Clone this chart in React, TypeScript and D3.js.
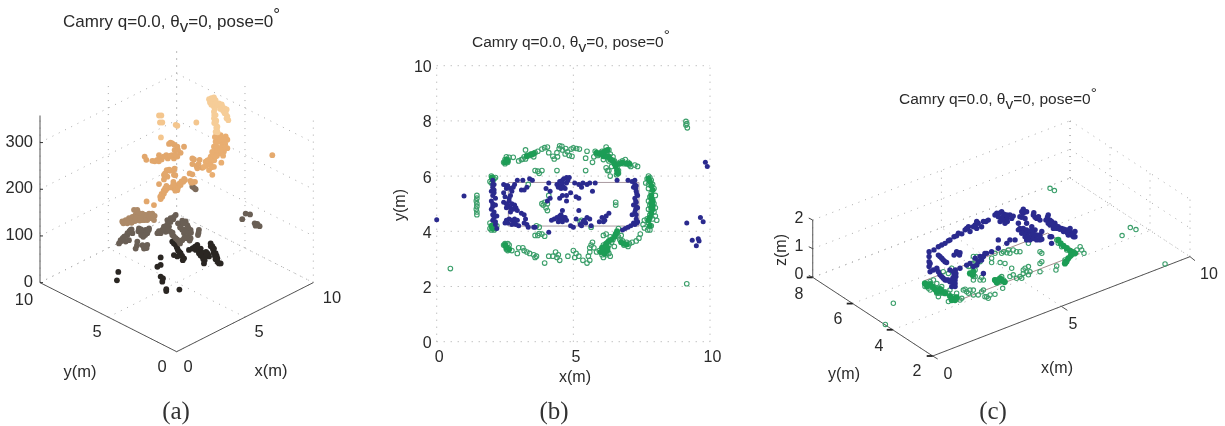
import React from "react";
import * as d3 from "d3";

// ---------- Panel (a): u = x−y (m), v = screen height in z-units, grouped by z level ----------
const aTopStrand = [[2.37,541],[2.54,543],[2.73,545],[2.44,534],[2.63,536],[2.54,529],[2.73,525],[2.85,539],[3.10,532],[3.34,525],[3.51,521],[3.66,519],[3.51,511],[3.71,504],[3.78,496],[2.73,514],[2.85,507],[2.73,500],[2.85,489],[2.98,482],[2.85,471],[2.5,536],[2.6,541],[2.65,530],[2.8,530],[2.9,533],[3.0,528],[3.2,520],[3.3,530],[3.4,516],[3.6,510],[3.65,500],[2.8,520],[2.75,507],[2.9,495],[2.8,493],[2.95,475],[2.9,480],[3.0,470],[2.75,490]];
const aMidStrand = [[3.22,464],[3.59,461],[3.71,454],[2.98,461],[2.85,450],[2.73,439],[3.10,450],[3.34,446],[3.71,436],[3.46,429],[3.10,436],[2.85,429],[2.73,421],[3.22,425],[2.49,418],[2.37,411],[2.12,407],[2.49,404],[2.73,396],[2.37,389],[2.0,396],[2.61,379],[3.27,405],[2.8,460],[3.0,450],[3.2,455],[3.45,455],[3.55,445],[3.3,438],[3.5,438],[2.9,440],[3.0,430],[3.2,432],[3.4,420],[2.95,420],[2.6,428],[2.6,412],[2.75,410],[2.3,402],[2.15,398],[2.55,395],[2.45,412],[2.25,410],[2.85,418]];
const aIsolatedTop = [[-1.29,506],[-1.12,506],[-1.22,491],[-1.05,491],[-.07,486],[.05,484],[1.44,491],[-1.15,459]];
const aLoneOrange = [[7.0,421]];
const aMidBand = [[-.56,445],[-.32,446],[-.15,443],[.05,439],[.54,439],[.29,426],[-2.34,418],[-2.22,411],[-1.78,409],[-1.41,411],[-1.29,421],[-1.17,414],[-.76,421],[-.56,418],[-.32,421],[-.2,414],[.05,418],[1.15,414],[1.27,412],[1.68,411],[1.15,402],[1.88,394],[1.51,393],[.95,382],[1.15,380],[-.73,389],[-.56,388],[-.24,389],[-.93,379],[-.68,375],[-.2,379],[-.93,369],[-1.29,359],[-.24,364],[-.07,357],[-.2,350],[.05,346],[.49,364],[.61,368],[.29,357],[1.07,362],[1.34,364],[-.8,346],[-.93,339],[-1.05,332],[-1.17,327],[-.68,350],[-2.2,322],[-1.66,314],
[-1.1,412],[-.95,418],[-.65,414],[-.45,420],[-.1,422],[-1.6,408],[-1.3,408],[-.15,432],[-.45,448],[.1,432],[-1.2,332],[-1.1,338],[-.95,345],[-.85,350],[-.75,355],[-.4,352],[-.25,358],[-.1,345],[.1,352],[.2,360],[.35,365],[.55,370],[1.0,366],[1.2,363],[-.85,382],[-.55,390],[-.45,388],[-.1,378],[-.15,392],[1.45,398],[1.6,402]];
const aDarkPair = [[1.15,354],[1.39,348],[1.27,351]];
const aBrown = [[-3.12,304],[-2.88,304],[-2.76,296],[-3.0,293],[-3.24,289],[-3.49,286],[-3.73,282],[-3.98,279],[-3.61,275],[-3.24,279],[-2.88,282],[-2.51,296],[-2.27,293],[-2.02,296],[-1.78,296],[-1.61,291],[-1.9,286],[-2.15,282],[-2.51,282],[-2.76,289],[-1.66,282],[-3.9,275],[-3.7,278],[-3.5,281],[-3.3,285],[-3.1,290],[-2.95,300],[-2.8,298],[-2.6,292],[-2.4,288],[-2.2,288],[-2.0,288],[-1.85,292],[-2.35,282],[-2.7,281],[-3.05,280],[-3.3,276],[-2.95,287],[-2.65,285],[-1.75,286]];
const aGray = [[-.07,293],[-.44,286],[-.68,282],[-.2,289],[.41,281],[.66,279],[.29,271],[.78,271],[1.02,261],[.41,261],[-.93,268],[-1.05,261],[-.8,257],[-1.17,254],[-1.41,254],[-.56,268],[-.44,257],[-.32,250],[-.07,243],[.17,236],[.54,254],[.78,243],[1.63,261],[1.56,250],[1.02,243],[.41,239],[-2.02,264],[-2.27,261],[-2.15,254],[-2.76,264],[-2.63,257],[-3.37,261],[-3.24,254],[-3.61,250],[-3.85,246],[-4.1,239],[-4.22,232],[-3.49,239],[-3.73,236],[-2.88,236],[-3.0,221],[-2.27,225],[-2.39,221],[-2.15,229],
[-4.1,236],[-3.95,243],[-3.8,247],[-3.6,254],[-3.45,258],[-3.3,262],[-2.8,258],[-2.6,262],[-2.4,258],[-2.2,258],[-2.05,260],[-2.6,250],[-2.45,246],[-2.3,250],[-2.9,228],[-2.5,228],[-2.2,222],[-.95,262],[-.85,264],[-1.3,258],[-.6,262],[-.3,255],[-.2,247],[.05,240],[.25,232],[-.7,272],[-.45,278],[-.25,284],[.1,275],[.25,266],[.5,262],[.65,258],[.9,252],[.5,275],[.85,266],[1.05,255],[1.6,255],[.7,245],[.55,243],[.95,238]];
const aDark = [[-.32,236],[-.07,229],[.05,221],[.29,211],[.54,200],[-.2,207],[.05,204],[.9,218],[1.15,221],[1.51,229],[1.76,221],[2.0,211],[1.63,211],[1.88,204],[2.24,211],[2.0,189],[2.49,232],[2.73,221],[2.85,211],[2.98,200],[3.10,189],[3.22,189],[2.37,204],[1.76,214],[2.0,204],[2.61,226],[2.93,205],[-.2,232],[0,225],[.1,217],[.2,214],[.4,205],[.45,196],[1.2,222],[1.35,225],[1.6,218],[1.7,212],[1.85,212],[1.95,198],[2.05,196],[2.1,205],[2.5,226],[2.65,220],[2.7,212],[2.8,205],[2.85,198],[3.0,192],[2.3,208],[2.15,214],[1.75,206],[1.4,218]];
const aLow = [[-1.17,202],[-1.41,182],[-1.17,186],[-1.17,161],[-1,157],[-1.05,150],[-4.27,171],[-4.37,153],[-.76,134],[-.76,130],[.2,133]];
const aRightGray = [[5.05,296],[5.37,294],[4.8,284],[5.71,275],[5.9,274],[6.07,269],[5.78,270]];
const aGroups: [number[][], number][] = [[aRightGray,90],[aLow,25],[aDark,25],[aGray,90],[aBrown,150],[aDarkPair,105],[aMidBand,250],[aLoneOrange,260],[aMidStrand,275],[aIsolatedTop,335],[aTopStrand,350]];

// ---------- Panel (b): x, y in metres ----------
const bGreen = [[2.45,6.5],[2.5,6.45],[2.55,6.52],[2.6,6.6],[2.5,6.6],[2.6,6.5],[2.55,6.7],[2.65,6.68],[2.8,6.68],[3.0,6.55],[3.1,6.6],[3.15,6.62],[3.2,6.7],[3.3,6.75],[3.25,6.62],[3.4,6.75],[3.45,6.8],[3.5,6.78],[3.6,6.85],[3.7,6.9],[3.25,6.95],[3.55,6.7],[3.85,6.98],[3.95,7.03],[4.05,7.05],[4.1,6.85],[4.25,6.72],[4.3,6.62],[4.42,6.7],[4.4,6.85],[4.48,7.0],[4.5,7.1],[4.58,7.08],[4.6,6.95],[4.72,7.0],[4.78,6.88],[4.7,6.8],[4.85,6.75],[4.95,6.72],[4.92,6.98],[5.0,7.02],[5.12,7.0],[5.22,6.98],[5.5,6.9],[5.45,6.65],[5.7,6.5],[5.75,6.7],
[5.8,6.9],[5.85,6.8],[5.9,6.75],[6.0,6.85],[6.05,6.9],[6.15,6.8],[6.2,7.05],[6.3,6.95],[6.25,6.75],[6.35,6.8],[6.45,6.7],[6.4,6.6],[6.5,6.55],[6.3,6.55],[6.4,6.35],[6.55,6.45],[6.6,6.3],[6.65,6.1],[6.58,6.05],[6.65,6.2],[6.7,6.5],[6.8,6.55],[6.9,6.6],[6.85,6.45],[7.0,6.5],[7.05,6.4],[7.1,6.35],[7.25,6.4],[7.35,6.35],[6.1,6.6],[6.2,6.3],[6.25,6.2],[6.35,6.0],
[7.75,6.0],[7.8,5.95],[7.7,5.9],[7.85,5.85],[7.65,5.75],[7.75,5.7],[7.9,5.7],[7.95,5.55],[7.75,5.55],[7.85,5.4],[8.0,5.3],[7.8,5.25],[7.9,5.15],[7.75,5.1],[7.85,5.05],[7.95,5.0],[7.8,4.95],[7.9,4.9],[8.0,4.85],[7.75,4.8],[7.85,4.75],[7.95,4.7],[7.8,4.6],[8.0,4.55],[7.7,4.45],[7.9,4.45],[8.05,4.4],[7.6,4.4],[7.75,4.3],[7.55,4.25],[7.85,4.2],[7.6,4.12],[7.72,4.05],[7.8,4.05],
[7.45,3.9],[7.4,3.75],[7.3,3.65],[7.15,3.6],[7.05,3.55],[6.95,3.6],[6.85,3.5],[6.8,3.65],[6.7,3.7],[6.75,3.85],[6.65,3.8],[6.6,3.95],[6.55,3.85],[6.45,3.7],[6.35,3.8],[6.4,3.6],[6.3,3.5],[6.2,3.4],[6.25,3.6],[6.1,3.5],[6.15,3.3],[6.05,3.25],[6.2,3.15],[6.1,3.05],[6.05,3.15],[5.95,3.3],[5.85,3.25],[5.75,3.4],[5.6,3.4],[5.65,3.5],[5.7,3.6],[5.6,3.25],[6.3,3.2],[6.35,3.1],[6.1,3.85],[6.2,3.9],[6.65,4.1],[7.0,3.45],[6.5,3.45],
[5.6,2.95],[5.55,3.1],[5.5,2.85],[5.35,2.95],[5.2,3.1],[5.05,3.05],[5.1,3.2],[5.0,3.3],[4.8,3.1],[4.5,2.95],[4.4,3.05],[4.35,3.25],[4.25,3.1],[4.45,3.15],[4.1,3.1],[3.95,2.85],[3.65,3.1],[3.6,3.05],[3.55,3.15],[3.4,3.2],[3.3,3.25],[3.2,3.3],[3.15,3.4],[3.0,3.4],[2.95,3.2],[2.5,3.55],[2.45,3.5],[2.55,3.45],[2.6,3.3],[2.55,3.35],[2.65,3.5],[2.75,3.3],[2.6,3.55],
[2.0,6.0],[2.05,5.95],[2.1,5.9],[1.95,5.8],[2.0,5.75],[2.15,5.95],[1.95,4.3],[2.0,4.2],[2.05,4.15],[1.95,4.1],[2.1,4.25],[2.0,4.05],[2.1,4.05],[2.15,4.1],[2.2,4.2],
[1.47,5.3],[1.47,5.2],[1.45,5.1],[1.47,5.0],[1.47,4.9],[1.45,4.8],[1.47,4.7],[1.47,4.6],[0.5,2.65],[9.12,7.98],[9.15,7.9],[9.12,7.85],[9.17,7.75],[9.15,2.1],
[3.6,6.2],[3.7,6.18],[3.85,6.2],[3.75,6.1],[3.35,5.7],[4.1,5.3],[4.05,5.0],[3.85,5.0],[3.9,4.95],[4.0,4.85],[4.05,4.75],[3.95,5.05],[3.65,4.2],[3.75,4.15],[3.6,3.85],[3.7,3.85],[3.85,3.9],[3.95,3.82],[3.75,3.92],[5.25,4.35],[5.3,4.4],[5.65,4.15],[6.55,5.05],[6.55,4.95],[4.4,6.2],[6.3,6.2],[5.45,6.2]];
const bGreenDense = [[2.5,6.5],[2.55,6.6],[2.6,6.55],[2.5,3.5],[2.55,3.4],[2.65,3.35],[3.3,6.72],[3.45,6.78],[3.55,6.82],
[5.85,6.85],[5.95,6.8],[6.05,6.82],[6.15,6.9],[6.25,6.95],[6.1,6.72],[6.2,6.7],[6.3,6.7],[6.35,6.6],[6.45,6.55],[6.5,6.45],[6.55,6.35],[6.6,6.2],[6.62,6.1],[6.7,6.45],[6.8,6.48],[6.95,6.45],[7.05,6.45],
[7.75,5.9],[7.8,5.8],[7.85,5.65],[7.9,5.5],[7.85,5.3],[7.85,5.2],[7.9,5.1],[7.85,5.0],[7.9,4.95],[7.85,4.85],[7.9,4.8],[7.85,4.65],[7.8,4.5],[7.75,4.4],[7.8,4.2],
[6.6,4.0],[6.55,3.9],[6.5,3.8],[6.4,3.7],[6.3,3.65],[6.2,3.55],[6.15,3.45],[6.25,3.4],[6.1,3.35],[6.05,3.4],[6.0,3.25],[6.15,3.2],[6.25,3.3],[6.75,3.6],[6.85,3.55],[6.95,3.52],
[2.02,5.95],[2.05,5.85],[2.02,4.2],[2.05,4.1],[2.08,4.2]];
const bBlue = [[2.05,5.85],[2.1,5.7],[2.05,5.6],[2.0,5.45],[2.05,5.3],[2.0,5.1],[2.15,5.2],[2.05,5.0],[2.15,4.95],[2.0,4.8],[2.1,4.7],[2.2,4.55],[2.1,4.5],[2.15,4.35],[2.2,4.1],[2.05,4.4],
[2.45,5.7],[2.55,5.55],[2.45,5.4],[2.6,5.65],[2.7,5.55],[2.75,5.45],[2.5,5.25],[2.7,5.3],[2.45,5.05],[2.55,5.0],[2.65,5.1],[2.75,5.0],[2.85,4.95],[2.55,4.85],[2.7,4.85],[2.9,4.85],[2.95,4.75],[2.7,4.7],[2.65,4.45],[2.55,4.4],[2.5,4.3],[2.75,4.4],[2.85,4.35],[2.95,4.4],[2.9,4.25],[3.0,4.2],[2.75,4.25],[2.85,5.7],[2.95,5.85],[2.8,5.6],
[3.15,5.85],[3.2,5.5],[3.1,5.5],[3.3,5.6],[3.4,5.9],[3.5,5.85],[3.1,4.65],[3.2,4.6],[3.25,4.45],[3.2,4.3],[3.3,4.25],[3.35,4.15],[3.6,4.15],[4.1,5.75],[4.0,5.55],[4.15,5.45],[4.15,5.2],[4.05,5.1],[4.4,5.7],[4.45,5.6],[4.5,5.8],[4.55,5.65],[4.6,5.75],[4.7,5.55],[4.65,5.9],[4.75,5.95],[4.8,5.85],[4.85,5.95],[4.75,5.75],[4.6,5.3],[4.5,5.2],[4.75,5.3],[4.9,5.4],[4.75,5.1],[5.1,5.25],[5.2,5.2],[5.05,5.75],[5.2,5.7],[5.3,5.6],[5.35,5.75],[5.5,5.7],[5.6,5.75],[5.7,5.45],[5.8,5.75],[6.6,5.85],[7.0,5.85],[7.15,5.8],[7.25,5.7],[7.2,5.6],[7.3,5.45],[7.35,5.3],[7.25,5.2],[7.3,5.05],[7.2,4.95],[7.35,4.85],[7.25,4.7],[7.15,4.6],[7.3,4.45],[7.35,4.35],[7.25,4.25],[7.1,4.2],[7.0,4.15],[6.9,4.1],[6.8,4.05],
[4.1,3.97],[4.2,4.4],[4.3,4.45],[4.4,4.5],[4.45,4.35],[4.5,4.45],[4.55,4.6],[4.6,4.35],[4.65,4.5],[4.75,4.4],[4.6,4.75],[4.9,4.2],[5.0,4.15],[5.1,4.45],[5.2,4.75],[5.25,4.25],[5.35,4.35],[5.45,4.3],[5.5,4.5],[5.6,4.45],[5.65,4.2],[5.95,4.35],[6.05,4.5],[6.15,4.4],[6.2,4.55],[6.3,4.65],[3.55,4.15],
[7.25,5.85],[7.28,5.55],[7.32,5.35],[7.28,5.1],[7.3,4.9],[7.28,4.8],[7.3,4.6],[7.32,4.3],[7.2,4.3],[7.3,5.65],[2.05,5.7],[2.1,5.5],[2.1,5.4],[2.05,4.6],[2.15,4.25],[2.05,4.9],[2.55,5.65],[2.65,5.2],[2.6,4.95],[2.8,4.8],[2.6,4.3],[2.85,4.45],[4.5,4.55],[4.7,4.5],[4.55,4.4],[5.4,4.4],[5.3,4.2],[6.1,4.35],[4.6,5.85],[4.55,5.55],[4.65,5.6],
[0.0,4.42],[1.0,5.28],[9.15,4.3],[9.35,3.68],[9.5,3.48],[9.57,3.73],[9.6,3.65],[9.65,4.5],[9.75,4.35],[9.83,6.5],[9.9,6.35]];
const carX = [2.62, 7.4];
const carY = [4.19, 5.77];

// ---------- Panel (c): u = sheared range, w = screen elevation ----------
const cBlue = [[-.14,3.64],[-.14,3.47],[-.14,3.29],[-.14,3.12],[-.1,2.94],[.05,3.70],[.22,3.81],[.35,3.87],[.48,3.93],[.67,4.05],[.83,4.16],[1.0,4.28],[1.26,4.40],[1.39,4.51],[1.58,4.51],[1.45,4.34],[1.71,4.45],[1.77,4.63],[1.97,4.69],[2.16,4.74],[1.9,4.51],
[2.49,4.98],[2.68,5.03],[2.55,4.86],[2.75,4.86],[2.88,4.80],[3.0,4.92],[2.62,4.69],[2.81,4.63],[3.07,4.80],[2.72,4.74],[3.52,5.12],[3.52,4.98],[3.39,4.86],[3.59,4.80],[3.91,4.92],[4.04,4.80],[4.17,4.74],[3.33,4.63],
[4.49,4.92],[4.49,4.74],[4.62,4.69],[4.75,4.63],[4.88,4.51],[5.01,4.45],[5.21,4.40],[5.34,4.34],[5.47,4.28],[5.47,4.16],[5.27,4.22],[5.08,4.34],[4.56,4.57],[4.69,4.45],
[3.33,4.40],[3.52,4.34],[3.65,4.28],[3.85,4.22],[3.98,4.16],[4.17,4.05],[3.78,4.05],[3.91,4.10],[4.17,4.22],[3.65,4.63],[3.85,4.51],[3.98,4.40],[4.56,4.16],[4.62,3.93],[3.65,4.05],[4.24,4.34],
[3.0,4.05],[2.88,3.93],[3.2,4.05],[2.55,4.05],[2.55,3.76],[2.29,3.64],[2.03,3.58],[1.84,3.47],[1.65,3.41],[1.45,3.23],[1.32,3.17],[1.06,3.06],[1.97,2.88],[.93,3.58],[1.06,3.60],[.83,3.52],[.22,3.52],[.35,3.41],[.48,3.29],[.16,3.06],[.28,2.83],[.41,2.71],[.54,2.65],[.67,2.59],[.8,2.48],[.87,2.65],[.83,2.83],[.88,3.0],[.67,3.0],
[2.42,4.92],[2.59,4.98],[2.77,4.95],[2.88,4.92],[2.68,4.8],[2.9,4.69],[3.13,4.88],[3.46,5.03],[3.46,4.84],[3.65,5.03],[3.93,5.0],[3.98,4.84],[4.11,4.86],
[3.39,4.45],[3.52,4.45],[3.65,4.4],[3.78,4.34],[3.91,4.28],[4.04,4.22],[3.72,4.16],[4.04,4.05],[4.17,4.14],[3.85,4.4],[3.59,4.16],[3.46,4.28],[4.24,4.07],
[4.46,4.84],[4.56,4.74],[4.66,4.6],[4.79,4.53],[4.94,4.42],[5.1,4.42],[5.23,4.3],[5.4,4.22],[5.53,4.34],[5.53,4.16],[5.34,4.45],[4.82,4.45],[4.49,4.63],[4.4,4.74],[4.62,4.16],
[.35,2.77],[.48,2.65],[.61,2.65],[.74,2.59],[.87,2.53],[.78,2.71],[.9,2.77],[.8,2.94],[.9,2.88],[.74,2.42],[.87,2.42],[-.1,3.23],[.03,3.0],[.22,2.94],[.28,3.47],[.41,3.35],[.54,3.26],[.93,3.64],[1.04,3.52],
[.61,4.02],[.93,4.19],[1.13,4.26],[1.32,4.45],[1.65,4.57],[1.71,4.69],[2.07,4.69],[1.97,3.47],[2.1,3.58],[1.9,3.35],[1.77,3.29],[1.71,3.17],[1.58,3.12]];
const cGreen = [[-.3,2.53],[-.23,2.42],[-.17,2.36],[-.08,2.48],[-.3,2.42],[-.1,2.59],[.03,2.36],[.22,2.36],[.35,2.3],[.48,2.24],[.16,2.19],[.22,2.07],[.35,2.19],[.61,2.19],[.8,2.07],[.74,2.01],[.93,2.01],[1.13,2.01],[.61,1.9],[1.19,2.3],[1.32,2.24],[1.58,2.13],[1.9,2.24],[2.1,2.07],[2.23,2.13],[2.42,2.15],[1.97,2.3],
[2.42,2.65],[2.55,2.67],[2.62,2.59],[2.75,2.65],[2.68,2.77],[2.81,2.59],[2.72,2.36],[3.26,2.71],[3.39,2.77],[3.52,2.88],[3.65,2.94],[3.59,3.06],[3.72,2.83],[4.17,2.94],[4.17,3.23],[4.24,3.29],[4.79,3.0],[4.82,3.14],[3.07,3.06],[2.62,3.26],[2.81,3.23],
[1.52,2.88],[1.65,2.77],[1.58,2.65],[1.84,2.65],[1.52,3.23],[1.65,3.35],[1.58,3.47],[1.39,3.12],[1.71,3.47],[2.29,3.41],[2.75,3.64],[2.94,3.7],[3.0,3.58],[3.39,3.64],[4.17,3.64],[4.24,3.58],[3.72,3.93],[.74,3.06],[.41,2.94],
[4.82,4.05],[4.88,3.93],[5.01,3.81],[5.21,3.7],[5.4,3.58],[5.34,3.47],[5.21,3.29],[5.6,3.7],[5.73,3.81],[5.79,3.7],[5.88,3.58],[5.47,3.64],[5.14,3.35],
[4.56,5.85],[4.73,5.77],[7.68,4.48],[7.9,4.41],[7.36,4.2],[9.03,3.21],[-1.53,1.84],[-1.84,1.1],
[3.0,2.77],[3.13,2.83],[3.52,3.0],[3.72,3.12],[3.78,2.94],[3.46,2.71],[2.03,2.07],[2.16,2.01],[1.77,2.13],[1.45,2.3],[1.39,2.19],[1.26,2.33],[1.58,2.3],[3.26,3.64],[3.13,3.7],[2.88,3.6],[2.68,3.58],[2.42,3.58],[2.29,3.26],[1.45,3.12],[1.71,3.17],[1.84,3.29],[1.97,2.65],[1.9,2.74],[1.58,2.77],[1.65,3.0],[.61,2.88],[.16,2.53],[.03,2.65],[.35,2.42],[.67,2.3],[-.1,2.3],[.22,2.19],[.93,2.19],[1.06,1.95]];
const cGreenDense = [[-.3,2.53],[-.21,2.44],[-.1,2.51],[0,2.42],[.09,2.33],[.22,2.28],[.35,2.24],[.48,2.19],[.29,2.33],[.16,2.24],[.67,2.09],[.8,2.01],[.93,2.05],[.74,1.95],[.87,1.95],
[2.42,2.65],[2.55,2.62],[2.68,2.65],[2.62,2.71],[2.49,2.56],[2.79,2.58],[1.45,2.88],[1.55,2.83],[1.58,2.94],
[4.88,4.05],[4.97,3.93],[5.08,3.84],[5.21,3.76],[5.34,3.67],[5.44,3.6],[5.38,3.52],[5.27,3.41],[5.18,3.29],[5.14,3.23],[5.53,3.58]];

const zTicks = [0, 100, 200, 300];
const bYTicks = [0, 2, 4, 6, 8, 10];
const bXTicks = [0, 5, 10];
const cZTicks = [0, 1, 2];
const cYTicks = [2, 4, 6, 8];

const font = "'Liberation Sans', Arial, sans-serif";
const ink = "#2a2a2a";
const gridC = "#a8a8a8";
const green = "#3c9f6b";
const greenDense = "#1f9d55";
const blue = "#2b2a8e";

const copper = d3.scaleLinear<string>().domain([0, 25, 90, 150, 250, 300, 350]).range(["#111111", "#2a2623", "#6a5f55", "#ad8a68", "#e2a76c", "#efb475", "#f6cd98"]);

// projections
const aU = d3.scaleLinear().domain([-10, 10]).range([40, 313.3]);
const aV = d3.scaleLinear().domain([0, 500]).range([351.7, 118.3]);
const aP = (x: number, y: number, z: number): [number, number] => [aU(x - y), aV(14.8 * (x + y) + z)];

const bX = d3.scaleLinear().domain([0, 10]).range([436.7, 710]);
const bY = d3.scaleLinear().domain([0, 10]).range([341.7, 65.7]);

const cU = d3.scaleLinear().domain([0, 10]).range([932.7, 1190]);
const cW = d3.scaleLinear().domain([0, 10]).range([356, 69.3]);
const cP = (x: number, y: number, z: number): [number, number] => [cU(x - 0.777 * (y - 2)), cW(0.3465 * x + 0.457 * (y - 2) + z)];

const Title = ({ x, y, size }: { x: number; y: number; size: number }) => (
  <text x={x} y={y} fontFamily={font} fontSize={size} fill={ink} xmlSpace="preserve">
    {"Camry q=0.0, θ"}
    <tspan dy={size * 0.35}>v</tspan>
    <tspan dy={-size * 0.35}>{"=0, pose=0"}</tspan>
    <tspan dy={-size * 0.4}>°</tspan>
  </text>
);

const Label = ({ x, y, t, size = 16.5, anchor = "middle", rot }: { x: number; y: number; t: string; size?: number; anchor?: string; rot?: number }) => (
  <text x={x} y={y} fontFamily={font} fontSize={size} fill={ink} textAnchor={anchor as any} dominantBaseline="central" transform={rot ? `rotate(${rot} ${x} ${y})` : undefined}>{t}</text>
);

const Dot = ({ a, b }: { a: [number, number]; b: [number, number] }) => (
  <line x1={a[0]} y1={a[1]} x2={b[0]} y2={b[1]} stroke={gridC} strokeWidth={1} strokeDasharray="1 6" />
);
const Solid = ({ a, b, w = 1, c = "#555" }: { a: [number, number]; b: [number, number]; w?: number; c?: string }) => (
  <line x1={a[0]} y1={a[1]} x2={b[0]} y2={b[1]} stroke={c} strokeWidth={w} />
);
const Caption = ({ x, t }: { x: number; t: string }) => (
  <text x={x} y={410} fontFamily="'Liberation Serif', serif" fontSize={25} fill="#333" textAnchor="middle" dominantBaseline="central">{t}</text>
);

export default function App() {
  const ringLine = d3.line<[number, number]>();
  const carRect: [number, number][] = [[carX[0], carY[0]], [carX[1], carY[0]], [carX[1], carY[1]], [carX[0], carY[1]], [carX[0], carY[0]]];
  return (
    <svg width={1225} height={426} style={{ position: "absolute", left: 0, top: 0, background: "#fff" }}>
      <defs>
        <filter id="soft" x="0" y="0" width="1225" height="426" filterUnits="userSpaceOnUse" primitiveUnits="userSpaceOnUse">
          <feGaussianBlur stdDeviation="0.4" />
        </filter>
      </defs>
      <g filter="url(#soft)">
      {/* ---------- (a) ---------- */}
      <Title x={63} y={26.5} size={17} />
      {zTicks.map((z) => (
        <g key={z}>
          <Dot a={aP(10, 10, z)} b={aP(10, 0, z)} />
          <Dot a={aP(0, 10, z)} b={aP(10, 10, z)} />
        </g>
      ))}
      {[0, 5, 10].map((t) => (
        <g key={t}>
          <Dot a={aP(t, 0, 0)} b={aP(t, 10, 0)} />
          <Dot a={aP(0, t, 0)} b={aP(10, t, 0)} />
          <Dot a={aP(t, 10, 0)} b={aP(t, 10, 350)} />
          <Dot a={aP(10, t, 0)} b={aP(10, t, 350)} />
        </g>
      ))}
      <Solid a={aP(0, 0, 0)} b={aP(10, 0, 0)} />
      <Solid a={aP(0, 0, 0)} b={aP(0, 10, 0)} />
      <Solid a={aP(0, 10, 0)} b={aP(0, 10, 358)} />
      {zTicks.map((z) => {
        const p = aP(0, 10, z);
        return (
          <g key={z}>
            <Solid a={p} b={[p[0] + 3, p[1]]} w={1} c="#333" />
            <Label x={33} y={p[1] - 2} t={String(z)} anchor="end" />
          </g>
        );
      })}
      {aGroups.map(([pts, z], i) => (
        <g key={i} fill={copper(z)}>
          {pts.map(([u, v], j) => <circle key={j} cx={aU(u)} cy={aV(v)} r={2.9} />)}
        </g>
      ))}
      <Label x={24} y={299} t="10" />
      <Label x={97} y={331} t="5" />
      <Label x={162} y={366} t="0" />
      <Label x={188} y={366} t="0" />
      <Label x={259} y={331} t="5" />
      <Label x={332} y={297} t="10" />
      <Label x={80} y={371} t="y(m)" />
      <Label x={271} y={370} t="x(m)" />
      <Caption x={176} t="(a)" />

      {/* ---------- (b) ---------- */}
      <Title x={472} y={46.5} size={15.5} />
      {bYTicks.map((t) => (
        <g key={t}>
          <Dot a={[bX(0), bY(t)]} b={[bX(10), bY(t)]} />
          <Label x={431.7} y={bY(t) + 1} t={String(t)} anchor="end" size={16} />
        </g>
      ))}
      {bXTicks.map((t) => (
        <g key={t}>
          <Dot a={[bX(t), bY(0)]} b={[bX(t), bY(10)]} />
          <Label x={bX(t) + 2.5} y={356.5} t={String(t)} size={16} />
        </g>
      ))}
      <path d={ringLine(carRect.map(([x, y]) => [bX(x), bY(y)] as [number, number])) ?? ""} fill="none" stroke="#a89aa0" strokeWidth={1} />
      {bGreen.map(([x, y], i) => <circle key={i} cx={bX(x)} cy={bY(y)} r={2.3} fill="none" stroke={green} strokeWidth={1.1} />)}
      {bGreenDense.map(([x, y], i) => <circle key={i} cx={bX(x)} cy={bY(y)} r={3} fill={greenDense} />)}
      {bBlue.map(([x, y], i) => <circle key={i} cx={bX(x)} cy={bY(y)} r={2.5} fill={blue} />)}
      <Label x={575} y={376} t="x(m)" size={16} />
      <Label x={399} y={205} t="y(m)" size={16} rot={-90} />
      <Caption x={554} t="(b)" />

      {/* ---------- (c) ---------- */}
      <Title x={899} y={104} size={15.5} />
      {[0, 5, 10].map((t) => (
        <g key={t}>
          <Dot a={cP(t, 2, 0)} b={cP(t, 8, 0)} />
          <Dot a={cP(t, 8, 0)} b={cP(t, 8, 2)} />
        </g>
      ))}
      {cYTicks.map((t) => (
        <g key={t}>
          <Dot a={cP(0, t, 0)} b={cP(10, t, 0)} />
          <Dot a={cP(10, t, 0)} b={cP(10, t, 2)} />
        </g>
      ))}
      {cZTicks.map((t) => (
        <g key={t}>
          <Dot a={cP(0, 8, t)} b={cP(10, 8, t)} />
          <Dot a={cP(10, 8, t)} b={cP(10, 2, t)} />
        </g>
      ))}
      <Solid a={cP(0, 2, 0)} b={cP(10, 2, 0)} />
      <Solid a={cP(0, 2, 0)} b={cP(0, 8, 0)} />
      <Solid a={cP(0, 8, 0)} b={cP(0, 8, 2)} />
      {cYTicks.map((t) => {
        const p = cP(0, t, 0);
        return <Solid key={t} a={[p[0] - 6, p[1]]} b={p} w={1.8} c="#222" />;
      })}
      {cZTicks.map((t) => {
        const p = cP(0, 8, t);
        return <Solid key={t} a={p} b={[p[0] - 4, p[1] - 2]} c="#444" />;
      })}
      <Solid a={cP(5, 2, 0)} b={[cP(5, 2, 0)[0] + 6, cP(5, 2, 0)[1] + 4]} />
      <Solid a={cP(10, 2, 0)} b={[cP(10, 2, 0)[0] + 5, cP(10, 2, 0)[1] + 4]} />
      <Solid a={cP(0, 2, 0)} b={[cP(0, 2, 0)[0] + 5, cP(0, 2, 0)[1] + 3]} />
      <path d={ringLine(carRect.map(([x, y]) => cP(x, y, 0))) ?? ""} fill="none" stroke="#a58d8d" strokeWidth={1} />
      {cGreen.map(([u, w], i) => <circle key={i} cx={cU(u)} cy={cW(w)} r={2.2} fill="none" stroke={green} strokeWidth={1.1} />)}
      {cGreenDense.map(([u, w], i) => <circle key={i} cx={cU(u)} cy={cW(w)} r={3.1} fill={greenDense} />)}
      {cBlue.map(([u, w], i) => <circle key={i} cx={cU(u)} cy={cW(w)} r={2.7} fill={blue} />)}
      <Label x={799} y={217} t="2" size={16} />
      <Label x={799} y={245} t="1" size={16} />
      <Label x={799} y={273} t="0" size={16} />
      <Label x={799} y={293} t="8" size={16} />
      <Label x={838} y={318} t="6" size={16} />
      <Label x={879} y={345} t="4" size={16} />
      <Label x={917} y={370} t="2" size={16} />
      <Label x={948} y={373} t="0" size={16} />
      <Label x={1073} y={323} t="5" size={16} />
      <Label x={1209} y={273} t="10" size={16} />
      <Label x={844} y={373} t="y(m)" size={16} />
      <Label x={1057} y={367} t="x(m)" size={16} />
      <Label x={780} y={250} t="z(m)" size={16} rot={-90} />
      <Caption x={993} t="(c)" />
      </g>
    </svg>
  );
}
